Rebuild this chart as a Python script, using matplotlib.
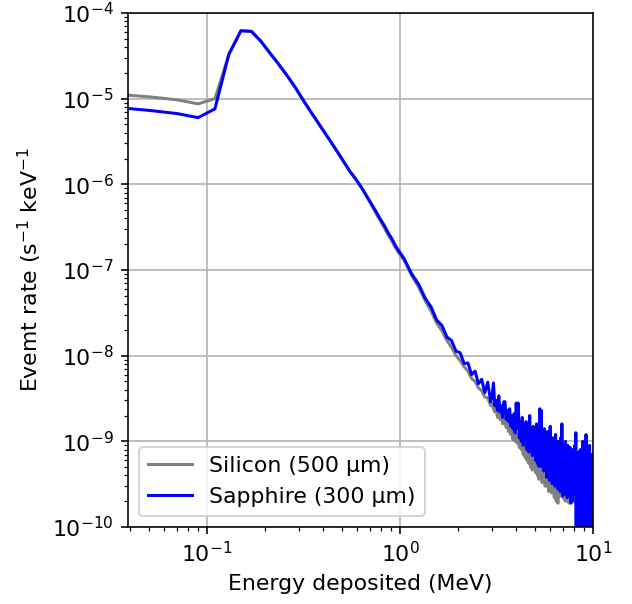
import numpy as np
import matplotlib
matplotlib.use("Agg")
import matplotlib.pyplot as plt

plt.rcParams["font.size"] = 11

# Energy bin centres (MeV)
energy_low = [0.03, 0.05, 0.07, 0.09, 0.11, 0.13, 0.15, 0.17, 0.19, 0.21, 0.23, 0.25,
              0.27, 0.29, 0.31, 0.35, 0.39, 0.43, 0.47, 0.51, 0.55, 0.59, 0.63, 0.67,
              0.71, 0.75, 0.79, 0.83, 0.87, 0.91, 0.95, 0.99]
energy_mid = [1.05, 1.15, 1.25, 1.35, 1.45, 1.55, 1.65, 1.75, 1.85, 1.95,
              2.05, 2.15, 2.25, 2.35, 2.45, 2.55, 2.65, 2.75, 2.85, 2.95]
energy_tail = [3.00, 3.05, 3.10, 3.15, 3.20, 3.25, 3.30, 3.35, 3.40, 3.45,
               3.50, 3.55, 3.60, 3.65, 3.70, 3.75, 3.80, 3.85, 3.90, 3.95,
               4.00, 4.05, 4.10, 4.15, 4.20, 4.25, 4.30, 4.35, 4.40, 4.45,
               4.50, 4.55, 4.60, 4.65, 4.70, 4.75, 4.80, 4.85, 4.90, 4.95,
               5.00, 5.05, 5.10, 5.15, 5.20, 5.25, 5.30, 5.35, 5.40, 5.45,
               5.50, 5.55, 5.60, 5.65, 5.70, 5.75, 5.80, 5.85, 5.90, 5.95,
               6.00, 6.05, 6.10, 6.15, 6.20, 6.25, 6.30, 6.35, 6.40, 6.45,
               6.50, 6.55, 6.60, 6.65, 6.70, 6.75, 6.80, 6.85, 6.90, 6.95,
               7.00, 7.05, 7.10, 7.15, 7.20, 7.25, 7.30, 7.35, 7.40, 7.45,
               7.50, 7.55, 7.60, 7.65, 7.70, 7.75, 7.80, 7.85, 7.90, 7.95,
               8.00, 8.05, 8.10, 8.15, 8.20, 8.25, 8.30, 8.35, 8.40, 8.45,
               8.50, 8.55, 8.60, 8.65, 8.70, 8.75, 8.80, 8.85, 8.90, 8.95,
               9.00, 9.05, 9.10, 9.15, 9.20, 9.25, 9.30, 9.35, 9.40, 9.45,
               9.50, 9.55, 9.60, 9.65, 9.70, 9.75, 9.80, 9.85, 9.90, 9.95]

# Event rates (s^-1 keV^-1)
silicon_low = [1.15e-5, 1.05e-5, 9.7e-6, 8.7e-6, 1.0e-5, 3.3e-5, 6.2e-5, 6.1e-5, 4.7e-5,
               3.5e-5, 2.7e-5, 2.1e-5, 1.65e-5, 1.3e-5, 1.02e-5, 6.7e-6, 4.66e-6, 3.35e-6,
               2.47e-6, 1.85e-6, 1.42e-6, 1.15e-6, 9.2e-7, 7.3e-7, 5.8e-7, 4.6e-7, 3.75e-7,
               3.1e-7, 2.55e-7, 2.15e-7, 1.8e-7, 1.55e-7]
sapphire_low = [8.1e-6, 7.3e-6, 6.7e-6, 6.0e-6, 7.6e-6, 3.3e-5, 6.2e-5, 6.1e-5, 4.7e-5,
                3.5e-5, 2.7e-5, 2.1e-5, 1.65e-5, 1.3e-5, 1.02e-5, 6.7e-6, 4.66e-6, 3.35e-6,
                2.47e-6, 1.85e-6, 1.42e-6, 1.15e-6, 9.3e-7, 7.4e-7, 6.0e-7, 4.85e-7, 3.95e-7,
                3.3e-7, 2.7e-7, 2.3e-7, 1.9e-7, 1.65e-7]

silicon_mid = [1.3e-7, 8.6e-8, 6.3e-8, 4.4e-8, 3.3e-8, 2.4e-8, 1.95e-8, 1.5e-8, 1.25e-8, 1.0e-8,
               8.8e-9, 7.4e-9, 6.6e-9, 5.4e-9, 5.0e-9, 4.2e-9, 3.9e-9, 3.3e-9, 3.2e-9, 2.6e-9]
sapphire_mid = [1.36e-7, 9.0e-8, 6.8e-8, 4.7e-8, 3.7e-8, 2.6e-8, 2.25e-8, 1.65e-8, 1.5e-8, 1.13e-8,
                1.08e-8, 8.1e-9, 8.2e-9, 6.0e-9, 6.6e-9, 4.7e-9, 5.3e-9, 3.7e-9, 4.9e-9, 2.9e-9]

silicon_tail = [2.8e-9, 2.4e-9, 2.2e-9, 2.5e-9, 1.9e-9, 2.3e-9, 1.8e-9, 2.0e-9, 1.6e-9, 1.9e-9,
                1.7e-9, 1.45e-9, 1.7e-9, 1.3e-9, 1.55e-9, 1.2e-9, 1.4e-9, 1.05e-9, 1.35e-9, 1.0e-9,
                1.25e-9, 9.5e-10, 1.2e-9, 8.5e-10, 1.1e-9, 8.0e-10, 1.0e-9, 7.0e-10, 9.5e-10, 6.5e-10,
                9.0e-10, 6.0e-10, 8.5e-10, 5.5e-10, 8.0e-10, 5.0e-10, 7.5e-10, 4.6e-10, 7.0e-10, 4.8e-10,
                7.5e-10, 4.3e-10, 6.5e-10, 4.0e-10, 6.8e-10, 3.6e-10, 6.0e-10, 3.8e-10, 6.5e-10, 3.3e-10,
                5.5e-10, 3.5e-10, 5.8e-10, 3.0e-10, 5.0e-10, 3.0e-10, 3.0e-10, 5.2e-10, 2.6e-10, 4.6e-10,
                3.0e-10, 5.0e-10, 2.5e-10, 4.5e-10, 2.8e-10, 4.2e-10, 2.2e-10, 4.0e-10, 2.4e-10, 2.0e-10,
                3.8e-10, 1.9e-10, 1.9e-10, 4.0e-10, 2.6e-10, 4.5e-10, 2.3e-10, 3.8e-10, 2.5e-10, 4.2e-10,
                2.2e-10, 3.6e-10, 2.1e-10, 3.8e-10, 2.0e-10, 3.5e-10, 2.3e-10, 3.4e-10, 2.0e-10, 3.6e-10,
                1.9e-10, 3.2e-10, 1.9e-10, 3.3e-10, 2.2e-10, 3.5e-10, 2.0e-10, 3.6e-10, 2.1e-10, 3.2e-10,
                2.0e-10, 3.4e-10, 1.9e-10, 3.5e-10, 2.2e-10, 3.3e-10, 2.0e-10, 3.8e-10, 1.8e-10, 3.0e-10,
                2.1e-10, 3.4e-10, 1.9e-10, 3.2e-10, 2.0e-10, 3.6e-10, 1.8e-10, 3.0e-10, 1.7e-10, 3.1e-10,
                1.8e-10, 3.3e-10, 1.6e-10, 3.0e-10, 1.8e-10, 3.2e-10, 0.0, 2.9e-10, 1.7e-10, 3.1e-10,
                1.6e-10, 2.8e-10, 1.8e-10, 3.0e-10, 0.0, 2.7e-10, 1.7e-10, 2.9e-10, 1.6e-10, 2.6e-10]
sapphire_tail = [3.3e-9, 4.8e-9, 2.6e-9, 3.0e-9, 2.3e-9, 3.4e-9, 2.2e-9, 2.6e-9, 1.9e-9, 2.9e-9,
                 2.9e-9, 1.8e-9, 2.3e-9, 1.7e-9, 2.4e-9, 1.5e-9, 2.0e-9, 1.4e-9, 2.1e-9, 1.25e-9,
                 2.8e-9, 1.4e-9, 2.8e-9, 1.1e-9, 1.7e-9, 1.0e-9, 1.9e-9, 9.0e-10, 1.5e-9, 1.1e-9,
                 1.7e-9, 8.0e-10, 1.4e-9, 7.5e-10, 2.0e-9, 8.5e-10, 1.3e-9, 6.8e-10, 1.5e-9, 7.5e-10,
                 1.2e-9, 6.0e-10, 1.6e-9, 5.5e-10, 1.1e-9, 5.1e-10, 2.4e-9, 7.0e-10, 2.3e-9, 5.0e-10,
                 1.2e-9, 4.5e-10, 1.4e-9, 6.0e-10, 1.0e-9, 3.8e-10, 1.3e-9, 5.0e-10, 9.5e-10, 3.5e-10,
                 1.5e-9, 4.5e-10, 1.0e-9, 3.2e-10, 1.1e-9, 4.0e-10, 8.5e-10, 3.0e-10, 1.2e-9, 3.5e-10,
                 9.0e-10, 2.8e-10, 1.0e-9, 4.2e-10, 8.0e-10, 2.6e-10, 1.1e-9, 3.5e-10, 1.6e-9, 2.3e-10,
                 9.0e-10, 3.0e-10, 7.5e-10, 2.4e-10, 1.0e-9, 3.2e-10, 7.0e-10, 2.2e-10, 9.0e-10, 3.0e-10,
                 6.5e-10, 2.5e-10, 8.5e-10, 3.0e-10, 1.9e-10, 7.5e-10, 2.0e-10, 8.0e-10, 3.0e-10, 6.5e-10,
                 2.4e-10, 9.0e-10, 3.5e-10, 1.26e-9, 0.0, 6.0e-10, 2.5e-10, 0.0, 7.5e-10, 0.0,
                 5.0e-10, 2.2e-10, 8.0e-10, 0.0, 6.0e-10, 0.0, 4.5e-10, 1.0e-9, 0.0, 5.5e-10,
                 2.0e-10, 0.0, 7.0e-10, 0.0, 1.2e-9, 3.0e-10, 0.0, 6.5e-10, 0.0, 5.0e-10,
                 2.4e-10, 0.0, 9.0e-10, 0.0, 5.5e-10, 0.0, 4.0e-10, 7.0e-10, 0.0, 5.5e-10]

energy = energy_low + energy_mid + energy_tail
silicon = silicon_low + silicon_mid + silicon_tail
sapphire = sapphire_low + sapphire_mid + sapphire_tail
assert len(energy) == len(silicon) == len(sapphire)

fig = plt.figure(figsize=(632 / 144, 604 / 144), dpi=144)
ax = fig.add_axes([0.2025, 0.1275, 0.7358, 0.851])
ax.plot(energy, silicon, color="gray", lw=1.5, label="Silicon (500 µm)")
ax.plot(energy, sapphire, color="blue", lw=1.5, label="Sapphire (300 µm)")
ax.set_xscale("log")
ax.set_yscale("log", nonpositive="clip")
ax.set_xlim(0.039, 10)
ax.set_ylim(1e-10, 1e-4)
ax.grid(True, which="major")
ax.set_xlabel("Energy deposited (MeV)")
ax.set_ylabel("Evemt rate (s$^{-1}$ keV$^{-1}$")
ax.legend(loc="lower left")
fig.savefig("out.png", dpi=144)
